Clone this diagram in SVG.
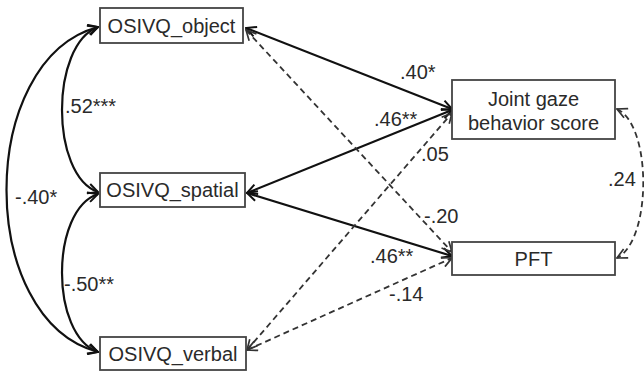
<svg xmlns="http://www.w3.org/2000/svg" width="644" height="374" viewBox="0 0 644 374">
<style>
.box{fill:#fff;stroke:#444;stroke-width:1.8}
.t{font-family:"Liberation Sans",Arial,sans-serif;font-size:20px;fill:#2a2a2a}
.c{text-anchor:middle}
.s{fill:none;stroke:#111;stroke-width:2.2}
.d{fill:none;stroke:#333;stroke-width:1.8;stroke-dasharray:6,4}
</style>
<defs>
<marker id="a" viewBox="0 0 12 12" refX="11" refY="6" markerWidth="12" markerHeight="12" markerUnits="userSpaceOnUse" orient="auto-start-reverse">
<path d="M1,1 L11,6 L1,11" fill="none" stroke="#111" stroke-width="2"/>
</marker>
<marker id="b" viewBox="0 0 12 12" refX="11" refY="6" markerWidth="12" markerHeight="12" markerUnits="userSpaceOnUse" orient="auto-start-reverse">
<path d="M1,1 L11,6 L1,11" fill="none" stroke="#333" stroke-width="1.7"/>
</marker>
</defs>
<g id="connectors">
<path class="s" d="M98,27 C50,45 50,175 98,192" marker-start="url(#a)" marker-end="url(#a)"/>
<path class="s" d="M98,194 C50,210 50,335 98,352" marker-start="url(#a)" marker-end="url(#a)"/>
<path class="s" d="M98,27 C-24,60 -24,320 98,352" marker-start="url(#a)" marker-end="url(#a)"/>
<path class="s" d="M246,28 L452,109" marker-start="url(#a)" marker-end="url(#a)"/>
<path class="s" d="M247,193 L452,110" marker-start="url(#a)" marker-end="url(#a)"/>
<path class="s" d="M247,193 L452,256" marker-start="url(#a)" marker-end="url(#a)"/>
<path class="d" d="M246,30 L452,252" marker-start="url(#b)" marker-end="url(#b)"/>
<path class="d" d="M247,350 L452,113" marker-start="url(#b)" marker-end="url(#b)"/>
<path class="d" d="M247,350 L452,258" marker-start="url(#b)" marker-end="url(#b)"/>
<path class="d" d="M617,109 C652,125 652,240 617,258" marker-start="url(#b)" marker-end="url(#b)"/>
</g>
<g id="object"><rect class="box" x="100" y="8" width="143" height="35"/><text class="t c" x="171.5" y="33">OSIVQ_object</text></g>
<g id="spatial"><rect class="box" x="100" y="173" width="145" height="34"/><text class="t c" x="172.5" y="197">OSIVQ_spatial</text></g>
<g id="verbal"><rect class="box" x="100" y="337" width="146" height="33"/><text class="t c" x="173" y="361">OSIVQ_verbal</text></g>
<g id="joint"><rect class="box" x="452" y="80" width="163" height="59"/><text class="t c" x="533.5" y="106">Joint gaze</text><text class="t c" x="533.5" y="130">behavior score</text></g>
<g id="pft"><rect class="box" x="452" y="242" width="163" height="33"/><text class="t c" x="533.5" y="266">PFT</text></g>
<g id="labels">
<text class="t" x="400" y="79">.40*</text>
<text class="t" x="374" y="126">.46**</text>
<text class="t" x="421" y="161">.05</text>
<text class="t" x="608" y="186">.24</text>
<text class="t" x="424" y="223">-.20</text>
<text class="t" x="370" y="263">.46**</text>
<text class="t" x="389" y="301">-.14</text>
<text class="t" x="65" y="113">.52***</text>
<text class="t" x="64" y="291">-.50**</text>
<text class="t" x="15" y="204">-.40*</text>
</g>
</svg>
